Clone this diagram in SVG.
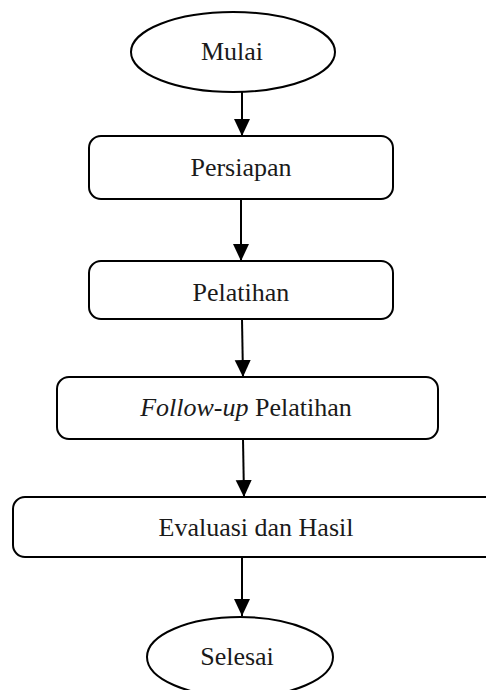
<svg xmlns="http://www.w3.org/2000/svg" width="486" height="690" viewBox="0 0 486 690">
<style>
.shape{fill:#fff;stroke:#000;stroke-width:2}
.lbl{font-family:"Liberation Serif","Times New Roman",serif;font-size:26px;fill:#1a1a1a;text-anchor:middle}
.conn{stroke:#000;stroke-width:2;fill:none;marker-end:url(#ah)}
</style>
<defs>
<marker id="ah" markerUnits="userSpaceOnUse" markerWidth="18" markerHeight="18" viewBox="0 0 18 18" refX="17" refY="9" orient="auto">
<path d="M0,1 L17,9 L0,17 Z" fill="#000"/>
</marker>
</defs>
<rect width="486" height="690" fill="#fff"/>
<g id="connectors">
<line class="conn" x1="242" y1="92" x2="242" y2="136"/>
<line class="conn" x1="241" y1="199" x2="241" y2="261"/>
<line class="conn" x1="242" y1="319" x2="243" y2="377"/>
<line class="conn" x1="243" y1="439" x2="244" y2="497"/>
<line class="conn" x1="242" y1="557" x2="242" y2="616"/>
</g>
<g id="mulai">
<ellipse class="shape" cx="233" cy="52" rx="102" ry="40"/>
<text class="lbl" x="232" y="60">Mulai</text>
</g>
<g id="persiapan">
<rect class="shape" x="89" y="136" width="304" height="63" rx="12"/>
<text class="lbl" x="241" y="176">Persiapan</text>
</g>
<g id="pelatihan">
<rect class="shape" x="89" y="261" width="304" height="58" rx="12"/>
<text class="lbl" x="241" y="301">Pelatihan</text>
</g>
<g id="followup">
<rect class="shape" x="57" y="377" width="381" height="62" rx="12"/>
<text class="lbl" x="246" y="416"><tspan font-style="italic">Follow-up</tspan> Pelatihan</text>
</g>
<g id="evaluasi">
<rect class="shape" x="13" y="497" width="487" height="60" rx="12"/>
<text class="lbl" x="256" y="536">Evaluasi dan Hasil</text>
</g>
<g id="selesai">
<ellipse class="shape" cx="240" cy="657" rx="93" ry="40"/>
<text class="lbl" x="237" y="665">Selesai</text>
</g>
</svg>
